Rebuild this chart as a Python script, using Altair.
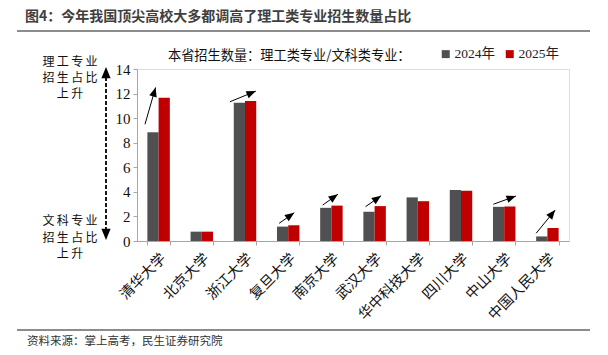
import math
import altair as alt
import pandas as pd

# ---------------- data ----------------
universities = ["清华大学", "北京大学", "浙江大学", "复旦大学", "南京大学",
                "武汉大学", "华中科技大学", "四川大学", "中山大学", "中国人民大学"]
ratio_2024 = [8.85, 0.76, 11.25, 1.17, 2.70, 2.38, 3.55, 4.15, 2.78, 0.37]
ratio_2025 = [11.65, 0.76, 11.40, 1.28, 2.88, 2.84, 3.24, 4.09, 2.81, 1.06]
years = ["2024年", "2025年"]
y_ticks = [0, 2, 4, 6, 8, 10, 12, 14]

# annotation arrows (category, start/end position within band, start/end value)
arrow_cats = ["清华大学", "浙江大学", "复旦大学", "南京大学", "武汉大学", "中山大学", "中国人民大学"]
arrow_x0 = [0.185, 0.15, 0.29, 0.30, 0.29, 0.25, 0.24]
arrow_x1 = [0.43, 0.75, 0.64, 0.65, 0.65, 0.77, 0.68]
arrow_y0 = [9.5, 11.33, 1.44, 2.93, 2.79, 2.99, 0.63]
arrow_y1 = [12.5, 12.2, 2.3, 3.8, 3.69, 3.66, 2.52]

title_text = "图4：今年我国顶尖高校大多都调高了理工类专业招生数量占比"
subtitle_text = "本省招生数量：理工类专业/文科类专业："
source_text = "资料来源：掌上高考，民生证券研究院"
up_label = ["理工专业", "招生占比", "上升"]
down_label = ["文科专业", "招生占比", "上升"]

# ---------------- layout ----------------
W, H = 432, 172
PAD_L, PAD_T = 137, 69
CJK = "Noto Sans CJK SC"
SERIF = "Liberation Serif, Noto Sans CJK SC"
C24, C25 = "#505052", "#c00000"
HEAD = "M0,0L-0.45,1.1L0.45,1.1Z"

rows = []
for u, a, b in zip(universities, ratio_2024, ratio_2025):
    rows.append({"uni": u, "year": years[0], "v": a})
    rows.append({"uni": u, "year": years[1], "v": b})
bars_df = pd.DataFrame(rows)

step_px = W / len(universities)
ypx = H / 14.0
arr_rows = []
for c, x0, x1, y0, y1 in zip(arrow_cats, arrow_x0, arrow_x1, arrow_y0, arrow_y1):
    i = universities.index(c)
    dx = (x1 - x0) * step_px
    dy = (y1 - y0) * ypx
    ang = math.degrees(math.atan2(dx, dy)) % 360
    arr_rows.append({"ax0": i + x0, "ax1": i + x1, "v": y0, "v2": y1, "ang": ang})
arr_df = pd.DataFrame(arr_rows)
head_df = pd.DataFrame({"ax1": arr_df["ax1"], "v": arr_df["v2"], "ang": arr_df["ang"]})

y_scale = alt.Scale(domain=[0, 14], nice=False)
y_axis = alt.Axis(values=y_ticks, grid=False, tickSize=4,
                  domainColor="#a6a6a6", tickColor="#a6a6a6",
                  labelFont="Liberation Serif", labelFontSize=15,
                  labelColor="#111", labelPadding=3)

x_enc = alt.X("uni:N", sort=universities, title=None,
              scale=alt.Scale(paddingInner=0.48, paddingOuter=0.24),
              axis=alt.Axis(labelAngle=-45, tickBand="extent", tickSize=4,
                            domainColor="#a6a6a6", tickColor="#a6a6a6",
                            labelFont=CJK, labelFontSize=14.5, labelColor="#111",
                            labelPadding=6))

bars = alt.Chart(bars_df).mark_bar().encode(
    x=x_enc,
    xOffset=alt.XOffset("year:N", sort=years, scale=alt.Scale(paddingInner=0, paddingOuter=0)),
    y=alt.Y("v:Q", title=None, scale=y_scale, axis=y_axis),
    color=alt.Color("year:N", sort=years,
                    scale=alt.Scale(domain=years, range=[C24, C25]),
                    legend=alt.Legend(title=None, orient="none", direction="horizontal",
                                      legendX=302, legendY=-22,
                                      symbolType="square", symbolSize=64,
                                      symbolStrokeWidth=0, labelFont=SERIF,
                                      labelFontSize=13.5, labelColor="#222",
                                      labelOffset=2, columnPadding=8)),
)

ax_scale = alt.Scale(domain=[0, len(universities)], nice=False, zero=False)
shafts = alt.Chart(arr_df).mark_rule(color="black", strokeWidth=1).encode(
    x=alt.X("ax0:Q", scale=ax_scale, axis=None),
    x2="ax1:Q",
    y=alt.Y("v:Q", title=None, scale=y_scale, axis=y_axis),
    y2="v2:Q",
)
heads = alt.Chart(head_df).mark_point(shape=HEAD, filled=True, size=289, color="black",
                                      opacity=1, strokeWidth=0).encode(
    x=alt.X("ax1:Q", scale=ax_scale, axis=None),
    y=alt.Y("v:Q", title=None, scale=y_scale, axis=y_axis),
    angle=alt.Angle("ang:Q", scale=None),
)
arrows = alt.layer(shafts, heads)

one = pd.DataFrame({"k": [0]})


def txt(s, x, y, size, font=CJK, weight="normal", align="left", color="#111"):
    return alt.Chart(one).mark_text(text=s, fontSize=size, font=font, fontWeight=weight,
                                    align=align, baseline="middle", color=color).encode(
        x=alt.value(x), y=alt.value(y))


title = txt(title_text, 25 - PAD_L, 17 - PAD_T, 14, weight="bold", color="#3f3f3f")
title_line = alt.Chart(one).mark_rule(color="#666666", strokeWidth=1.5).encode(
    x=alt.value(17 - PAD_L), x2=alt.value(590 - PAD_L), y=alt.value(31 - PAD_T))
bottom_line = alt.Chart(one).mark_rule(color="#666666", strokeWidth=1.5).encode(
    x=alt.value(17 - PAD_L), x2=alt.value(590 - PAD_L), y=alt.value(330 - PAD_T))
source = txt(source_text, 27 - PAD_L, 342 - PAD_T, 11.5, color="#333333")
subtitle = txt(subtitle_text, 168 - PAD_L, 56 - PAD_T, 13.2, color="#111")

sp = "\u2009"
ann = []
for s, yy in zip(up_label, [62, 78, 94]):
    ann.append(txt(sp.join(s), 70 - PAD_L, yy - PAD_T, 12, align="center"))
for s, yy in zip(down_label, [221, 238, 254]):
    ann.append(txt(sp.join(s), 70 - PAD_L, yy - PAD_T, 12, align="center"))

AX = 106 - PAD_L
dash = alt.Chart(one).mark_rule(color="black", strokeWidth=1.8, strokeDash=[4, 2]).encode(
    x=alt.value(AX), y=alt.value(77 - PAD_T), y2=alt.value(230 - PAD_T))
head_up = alt.Chart(one).mark_point(shape=HEAD, filled=True, size=420, color="black",
                                    opacity=1, strokeWidth=0).encode(
    x=alt.value(AX), y=alt.value(67 - PAD_T))
head_dn = alt.Chart(one).mark_point(shape=HEAD, filled=True, size=420, color="black",
                                    opacity=1, strokeWidth=0, angle=180).encode(
    x=alt.value(AX), y=alt.value(240 - PAD_T))

chart = alt.layer(
    bars, arrows, title, title_line, bottom_line, source, subtitle, dash, head_up, head_dn, *ann
).resolve_scale(x="independent", y="shared").properties(
    width=W, height=H,
    padding={"left": PAD_L, "top": PAD_T, "right": 608 - PAD_L - W, "bottom": 355 - PAD_T - H},
    autosize=alt.AutoSizeParams(type="none"),
).configure_view(stroke=None).configure(background="white")

chart.save("out.html", embed_options={"renderer": "svg", "actions": False})
